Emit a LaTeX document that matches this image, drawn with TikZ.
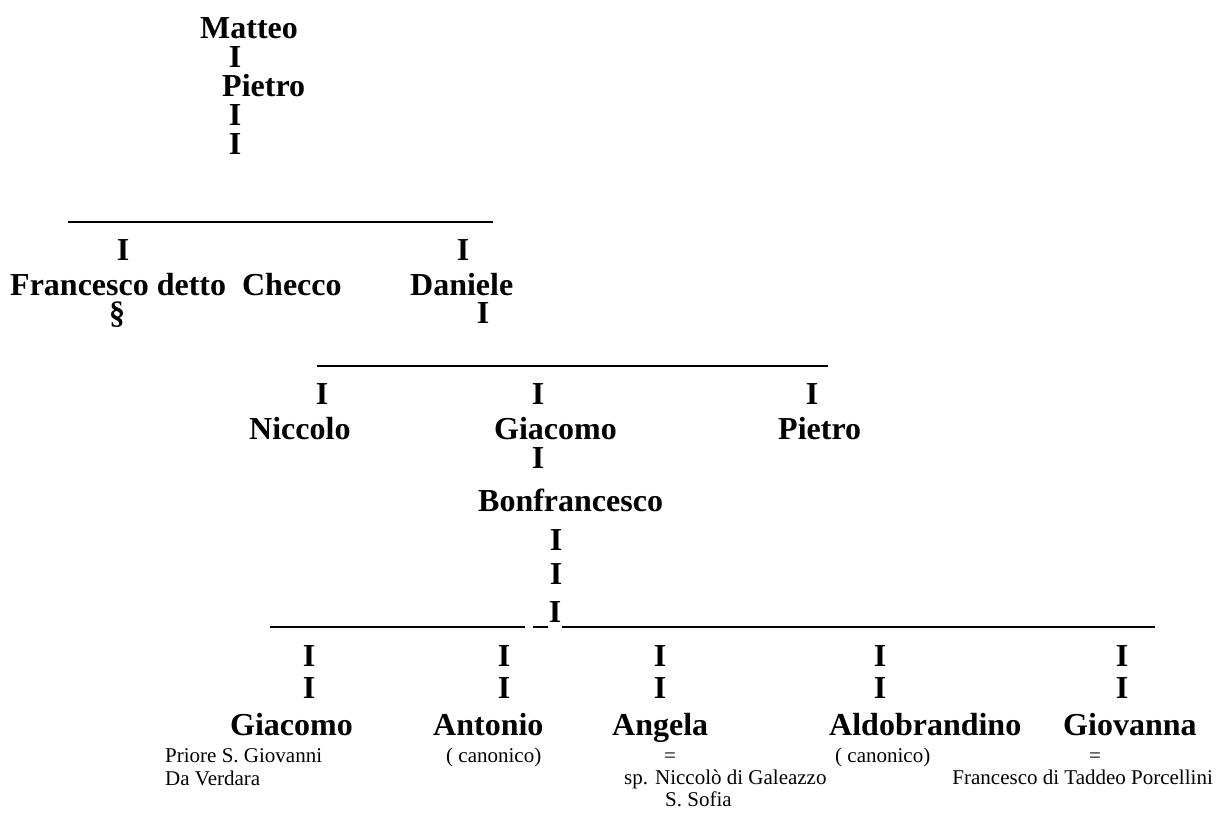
\documentclass[tikz,border=0pt]{standalone}
\usepackage{fontspec}
\setmainfont{Liberation Serif}
\begin{document}
\begin{tikzpicture}[x=1pt,y=-1pt,
  b/.style={font=\fontsize{32}{36}\selectfont\bfseries, inner sep=0pt, anchor=base west},
  bi/.style={font=\fontsize{32}{36}\selectfont\bfseries, inner sep=0pt, anchor=base},
  sm/.style={font=\fontsize{21}{24}\selectfont, inner sep=0pt, anchor=base west},
  smc/.style={font=\fontsize{21}{24}\selectfont, inner sep=0pt, anchor=base},
  rule/.style={line width=1.6pt}]
\useasboundingbox (0,0) rectangle (1224,815);
% top
\node[b] (matteo) at (200,38) {Matteo};
\node[bi] (i1) at (235,67) {I};
\node[b] (pietro1) at (222,96) {Pietro};
\node[bi] (i2) at (235,125) {I};
\node[bi] (i3) at (235,154) {I};
\coordinate (l1a) at (68,222); \coordinate (l1b) at (493,222);
\draw[rule] (l1a) -- (l1b);
\node[bi] (i4) at (123,260) {I};
\node[bi] (i5) at (463,260) {I};
\node[b] (francesco) at (10,295) {Francesco detto\ \ Checco};
\node[b] (daniele) at (410,295) {Daniele};
\node[bi] (sect) at (117,323) {\S};
\node[bi] (i6) at (483,323) {I};
\coordinate (l2a) at (317,366); \coordinate (l2b) at (828,366);
\draw[rule] (l2a) -- (l2b);
\node[bi] (i7) at (322,404) {I};
\node[bi] (i8) at (538,404) {I};
\node[bi] (i9) at (812,404) {I};
\node[b] (niccolo) at (249,439) {Niccolo};
\node[b] (giacomo1) at (494,439) {Giacomo};
\node[b] (pietro2) at (778,439) {Pietro};
\node[bi] (i10) at (538,468) {I};
\node[b] (bonfr) at (478,511) {Bonfrancesco};
\node[bi] (i11) at (556,550) {I};
\node[bi] (i12) at (556,584) {I};
\coordinate (l3a) at (270,627); \coordinate (l3b) at (525,627);
\draw[rule] (l3a) -- (l3b);
\coordinate (l4a) at (533,627); \coordinate (l4b) at (548,627);
\draw[rule] (l4a) -- (l4b);
\node[bi] (i13) at (555,622) {I};
\coordinate (l5a) at (562,627); \coordinate (l5b) at (1155,627);
\draw[rule] (l5a) -- (l5b);
% children
\foreach \x/\n in {309/a,504/b,660/c,880/d,1122/e}{
  \node[bi] (ia\n) at (\x,666) {I};
  \node[bi] (ib\n) at (\x,698) {I};
}
\node[b] (giacomo2) at (230,735) {Giacomo};
\node[b] (antonio) at (433,735) {Antonio};
\node[b] (angela) at (612,735) {Angela};
\node[b] (aldo) at (829,735) {Aldobrandino};
\node[b] (giovanna) at (1063,735) {Giovanna};
\node[sm] (priore) at (165,762) {Priore S. Giovanni};
\node[sm] (verdara) at (165,785) {Da Verdara};
\node[sm] (can1) at (446,762) {( canonico)};
\node[smc] (eq1) at (670,762) {=};
\node[sm] (can2) at (835,762) {( canonico)};
\node[smc] (eq2) at (1095,762) {=};
\node[sm] (sp) at (624,784) {sp. Niccolò di Galeazzo};
\node[sm] (sofia) at (665,806) {S. Sofia};
\node[sm, anchor=base east] (porc) at (1213,784) {Francesco di Taddeo Porcellini};
\end{tikzpicture}
\end{document}
